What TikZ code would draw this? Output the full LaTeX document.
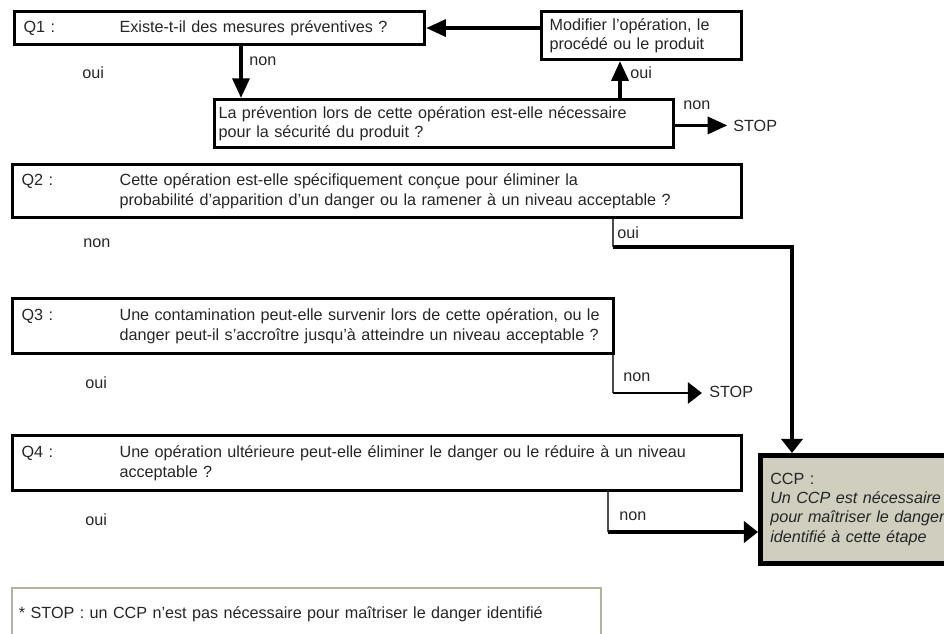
\documentclass[tikz,border=0pt]{standalone}
\usepackage{fontspec}
\setmainfont{Liberation Sans}
\usetikzlibrary{arrows.meta}

\definecolor{ccpfill}{RGB}{208,206,190}
\definecolor{notegrey}{RGB}{181,178,155}

\begin{document}
\begin{tikzpicture}[x=0.025cm, y=-0.025cm,
  font=\fontsize{11.5}{13.8}\selectfont, text=black!85,
  qbox/.style={rectangle, draw=black, line width=2.2pt, anchor=north west, align=left, inner ysep=2pt},
  lbl/.style={anchor=base west, inner sep=0pt},
  fat/.style={line width=2.6pt, -{Triangle[length=14pt,width=12pt]}},
  elbow/.style={line width=2.4pt, -{Triangle[length=10pt,width=15pt]}},
  stub/.style={line width=0.8pt, draw=black!70}]
  \useasboundingbox (0,0) rectangle (944,633);

  % Question 1 and the loop back to it
  \node (q1) [qbox, inner xsep=0.225cm, minimum width=10.25cm, minimum height=0.825cm, text width=9.8cm] at (13,10) {\makebox[2.4cm][l]{Q1 :}Existe-t-il des mesures préventives ?};
  \node (modif) [qbox, inner xsep=0.2cm, minimum width=5cm, minimum height=1.2cm, text width=4.6cm] at (540,10) {Modifier l’opération, le\\procédé ou le produit};
  \node (prev) [qbox, inner xsep=0.1cm, minimum width=11.475cm, minimum height=1.2cm, text width=11.275cm] at (213,98) {La prévention lors de cette opération est-elle nécessaire\\pour la sécurité du produit ?};
  \node (stopa) [lbl] at (733,131) {STOP};

  % Questions 2 to 4
  \node (q2) [qbox, inner xsep=0.225cm, minimum width=18.225cm, minimum height=1.325cm, text width=17.775cm] at (11,163) {\mbox{\makebox[2.45cm][l]{Q2 :}Cette opération est-elle spécifiquement conçue pour éliminer la}\\\mbox{\hspace*{2.45cm}probabilité d’apparition d’un danger ou la ramener à un niveau acceptable ?}};
  \node (q3) [qbox, inner xsep=0.225cm, minimum width=15.025cm, minimum height=1.375cm, text width=14.575cm] at (11,297) {\mbox{\makebox[2.45cm][l]{Q3 :}Une contamination peut-elle survenir lors de cette opération, ou le}\\\mbox{\hspace*{2.45cm}danger peut-il s’accroître jusqu’à atteindre un niveau acceptable ?}};
  \node (q4) [qbox, inner xsep=0.225cm, minimum width=18.225cm, minimum height=1.375cm, text width=17.775cm] at (11,434) {\mbox{\makebox[2.45cm][l]{Q4 :}Une opération ultérieure peut-elle éliminer le danger ou le réduire à un niveau}\\\mbox{\hspace*{2.45cm}acceptable ?}};
  \node (stopb) [lbl] at (709,397) {STOP};

  % CCP result and footnote
  \node (ccp) [qbox, fill=ccpfill, line width=3.2pt, inner xsep=0.25cm, minimum width=5.05cm, minimum height=2.7cm, text width=4.55cm] at (758,453) {CCP :\\\textit{Un CCP est nécessaire}\\\textit{pour maîtriser le danger}\\\textit{identifié à cette étape}};
  \node (note) [qbox, draw=notegrey, line width=1.4pt, inner xsep=0.175cm, minimum width=14.725cm, minimum height=1.3cm, text width=14.375cm] at (11,587) {* STOP : un CCP n’est pas nécessaire pour maîtriser le danger identifié};

  % answers
  \node (q1oui) [lbl] at (82,78) {oui};
  \node (q1non) [lbl] at (249,65) {non};
  \node (prevoui) [lbl] at (630,78) {oui};
  \node (prevnon) [lbl] at (683,109) {non};
  \node (q2oui) [lbl] at (617,238) {oui};
  \node (q2non) [lbl] at (83,247) {non};
  \node (q3oui) [lbl] at (85,388) {oui};
  \node (q3non) [lbl] at (623,381) {non};
  \node (q4oui) [lbl] at (85,525) {oui};
  \node (q4non) [lbl] at (619,520) {non};

  % bends of the connectors
  \coordinate (q1down) at (241,0);
  \coordinate (prevup) at (620,0);
  \coordinate (q2bend) at (613,247);
  \coordinate (q2turn) at (792,247);
  \coordinate (q3bend) at (613,393);
  \coordinate (q4bend) at (608,532);

  % connectors
  \draw [fat] (modif.west |- q1.east) -- (q1.east);
  \draw [fat] (q1.south -| q1down) -- (prev.north -| q1down);
  \draw [fat] (prev.north -| prevup) -- (modif.south -| prevup);
  \draw [fat, shorten >=4pt] (prev.east |- stopa.west) -- (stopa.west);
  \draw [stub] (q2.south -| q2bend) -- (q2bend);
  \draw [elbow] (q2bend) -- (q2turn) -- (ccp.north -| q2turn);
  \draw [stub] (q3.south -| q3bend) -- (q3bend);
  \draw [elbow, line width=1.8pt, shorten >=5pt] (q3bend) -- (q3bend -| stopb.west);
  \draw [stub] (q4.south -| q4bend) -- (q4bend);
  \draw [elbow] (q4bend) -- (q4bend -| ccp.west);
\end{tikzpicture}
\end{document}
